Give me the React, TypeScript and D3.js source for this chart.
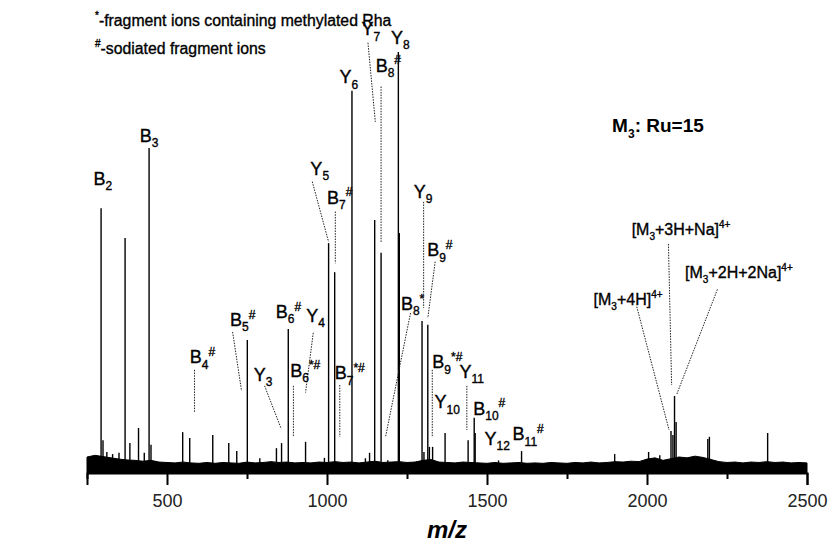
import React, { useEffect, useRef } from "react";
import * as d3 from "d3";

// peak list: m/z and relative intensity (Y8 = 100)
const peakMz = [
  294, 300, 312, 330, 350, 369, 384, 411, 429, 444, 450, 549, 571, 643, 693,
  718, 751, 790, 842, 858, 879, 933, 992, 1005, 1024, 1078, 1120, 1133, 1149,
  1169, 1190, 1223, 1226, 1297, 1303, 1315, 1320, 1330, 1369, 1441, 1460, 1463,
  1536, 1608, 1899, 2005, 2040, 2075, 2081, 2086, 2091, 2190, 2195, 2377,
];
const peakInt = [
  62.9, 7.8, 5, 4.5, 4.8, 55.8, 7.1, 10.7, 4.8, 77.2, 6.7, 9.7, 8.3, 9.0, 7.1,
  5.2, 31.6, 3.5, 5.9, 7.1, 34.2, 7.4, 3.6, 54.6, 47.7, 90.8, 3.5, 4.8, 60.1,
  52.3, 3.0, 100, 57.0, 36.1, 5, 35.2, 6.2, 6.2, 9.5, 7.8, 13.1, 9.5,
  3, 5.2, 4.5, 5, 4.2, 10.0, 9.0, 18.3, 12.1, 8.1, 8.6, 9.5,
];

// chemical noise envelope along the baseline
const noiseMz = [
  250, 275, 300, 325, 350, 375, 400, 425, 450, 475, 500, 525, 550, 575, 600,
  625, 650, 675, 700, 725, 750, 775, 800, 825, 850, 875, 900, 925, 950, 975,
  1000, 1025, 1050, 1075, 1100, 1125, 1150, 1175, 1200, 1225, 1250, 1275, 1300,
  1325, 1350, 1375, 1400, 1425, 1450, 1475, 1500, 1525, 1550, 1575, 1600, 1625,
  1650, 1675, 1700, 1725, 1750, 1775, 1800, 1825, 1850, 1875, 1900, 1925, 1950,
  1975, 2000, 2025, 2050, 2075, 2100, 2125, 2150, 2175, 2200, 2225, 2250, 2275,
  2300, 2325, 2350, 2375, 2400, 2425, 2450, 2475, 2500,
];
const noiseInt = [
  3.8, 4.2, 3.9, 3.6, 3.3, 3.1, 3.0, 2.8, 3.0, 2.6, 2.5, 2.4, 2.6, 2.4, 2.3,
  2.5, 2.3, 2.5, 2.4, 2.3, 2.6, 2.4, 2.5, 2.7, 2.5, 2.6, 2.4, 2.5, 2.4, 2.6,
  2.5, 2.7, 2.5, 2.6, 2.4, 2.6, 2.8, 2.5, 2.6, 2.7, 2.5, 2.6, 3.0,
  3.2, 2.6, 2.5, 2.4, 2.6, 2.5, 2.4, 2.3, 2.5, 2.3, 2.4, 2.5, 2.3,
  2.4, 2.3, 2.5, 2.4, 2.3, 2.5, 2.4, 2.6, 2.4, 2.5, 2.7, 2.6, 2.8,
  2.7, 3.3, 3.6, 3.0, 3.4, 3.8, 3.6, 4.0, 3.7, 3.2, 2.7, 2.5, 2.6,
  2.4, 2.6, 2.5, 2.7, 2.5, 2.6, 2.4, 2.5, 2.4,
];

const xTicks = [250, 500, 750, 1000, 1250, 1500, 1750, 2000, 2250, 2500];
const xTickLabels = ["", "500", "", "1000", "", "1500", "", "2000", "", "2500"];

// ion labels: text (with _{sub} ^{sup}), anchor in data units (left, baseline)
const labels = [
  { t: "B_{2}", mz: 270, i: 68.4 },
  { t: "B_{3}", mz: 415, i: 78.6 },
  { t: "B_{4}^{#}", mz: 571, i: 26.1 },
  { t: "B_{5}^{#}", mz: 697, i: 34.9 },
  { t: "Y_{3}", mz: 771, i: 21.9 },
  { t: "B_{6}^{#}", mz: 840, i: 36.8 },
  { t: "Y_{4}", mz: 935, i: 35.9 },
  { t: "B_{6}^{*#}", mz: 885, i: 22.9 },
  { t: "Y_{5}", mz: 948, i: 70.8 },
  { t: "B_{7}^{#}", mz: 1000, i: 63.9 },
  { t: "B_{7}^{*#}", mz: 1024, i: 22.3 },
  { t: "Y_{6}", mz: 1039, i: 92.6 },
  { t: "Y_{7}", mz: 1108, i: 104 },
  { t: "B_{8}^{#}", mz: 1152, i: 95.3 },
  { t: "Y_{8}", mz: 1200, i: 102 },
  { t: "Y_{9}", mz: 1271, i: 65.3 },
  { t: "B_{9}^{#}", mz: 1313, i: 51.5 },
  { t: "B_{8}^{*}", mz: 1231, i: 38.7 },
  { t: "B_{9}^{*#}", mz: 1329, i: 24.9 },
  { t: "Y_{10}", mz: 1336, i: 15.4 },
  { t: "Y_{11}", mz: 1414, i: 22.6 },
  { t: "B_{10}^{#}", mz: 1457, i: 13.8 },
  { t: "Y_{12}", mz: 1492, i: 6.7 },
  { t: "B_{11}^{#}", mz: 1580, i: 7.8 },
  { t: "[M_{3}+4H]^{4+}", mz: 1833, i: 39.9, small: true },
  { t: "[M_{3}+3H+Na]^{4+}", mz: 1952, i: 56.5, small: true },
  { t: "[M_{3}+2H+2Na]^{4+}", mz: 2119, i: 46.3, small: true },
];

// dotted leader lines: from label to peak, data units
const leaders = [
  [586, 24.5, 586, 14.3],
  [705, 33.5, 733, 19.5],
  [805, 20.7, 857, 10.5],
  [957, 33.3, 933, 19.1],
  [895, 20.7, 895, 8.6],
  [954, 69.2, 1005, 54.9],
  [1026, 62.1, 1026, 49.8],
  [1040, 20.9, 1040, 8.6],
  [1128, 102.2, 1151, 83.4],
  [1169, 91.8, 1169, 54.6],
  [1302, 64.4, 1302, 39.2],
  [1338, 50.2, 1315, 36.8],
  [1261, 38.0, 1183, 8.6],
  [1329, 24.5, 1329, 8.6],
  [1437, 20.7, 1437, 10.2],
  [1968, 39.5, 2069, 10.2],
  [2067, 54.4, 2077, 20.9],
  [2220, 43.6, 2092, 18.5],
];

const FONT = "'Liberation Sans', Arial, sans-serif";

function addRich(text: any, s: string, size: number, small: number) {
  const parts = s.split(/(_\{[^}]*\}|\^\{[^}]*\})/).filter((p) => p !== "");
  let cur = 0;
  parts.forEach((p) => {
    let target = 0;
    let fs = size;
    let str = p;
    if (p.startsWith("_{")) {
      target = size * 0.3;
      fs = small;
      str = p.slice(2, -1);
    } else if (p.startsWith("^{")) {
      target = -size * 0.42;
      fs = small;
      str = p.slice(2, -1);
    }
    text
      .append("tspan")
      .attr("dy", target - cur)
      .style("font-size", fs + "px")
      .text(str);
    cur = target;
  });
}

export default function App() {
  const ref = useRef<SVGSVGElement>(null);

  useEffect(() => {
    const svg = d3.select(ref.current);
    svg.selectAll("*").remove();

    const x = d3.scaleLinear().domain([250, 2500]).range([87, 807]);
    const y = d3.scaleLinear().domain([0, 100]).range([473, 52]);

    // baseline noise
    const noise = noiseMz.map((m, k) => [m, noiseInt[k]]);
    svg
      .append("path")
      .datum(noise)
      .attr(
        "d",
        d3
          .area<number[]>()
          .x((d) => x(d[0]))
          .y0(y(0))
          .y1((d) => y(d[1]))
      )
      .attr("fill", "#000")
      .attr("stroke", "#000")
      .attr("stroke-width", 1);

    // peaks
    svg
      .selectAll(".peak")
      .data(peakMz)
      .join("line")
      .attr("class", "peak")
      .attr("x1", (d) => x(d))
      .attr("x2", (d) => x(d))
      .attr("y1", y(0))
      .attr("y2", (d, k) => y(peakInt[k]))
      .attr("stroke", "#000")
      .attr("stroke-width", 1.4);

    // leaders
    svg
      .selectAll(".leader")
      .data(leaders)
      .join("line")
      .attr("class", "leader")
      .attr("x1", (d) => x(d[0]))
      .attr("y1", (d) => y(d[1]))
      .attr("x2", (d) => x(d[2]))
      .attr("y2", (d) => y(d[3]))
      .attr("stroke", "#222")
      .attr("stroke-width", 1)
      .attr("stroke-dasharray", "1.5,1.2");

    // x-axis
    const axis = d3
      .axisBottom(x)
      .tickValues(xTicks)
      .tickFormat((d, k) => xTickLabels[k])
      .tickSizeOuter(0)
      .tickSize(12)
      .tickPadding(9);
    const gx = svg
      .append("g")
      .attr("transform", `translate(0,${y(0)})`)
      .call(axis);
    gx.select(".domain").attr("stroke-width", 2);
    gx.selectAll(".tick line")
      .attr("stroke-width", 2)
      .attr("y2", (d: any) => (d % 500 === 0 ? 12 : 6));
    gx.selectAll(".tick text")
      .style("font-family", FONT)
      .style("font-size", "18px")
      .attr("fill", "#222");

    // axis title
    svg
      .append("text")
      .attr("x", 447)
      .attr("y", 538)
      .attr("text-anchor", "middle")
      .style("font-family", FONT)
      .style("font-size", "24px")
      .style("font-weight", "bold")
      .style("font-style", "italic")
      .text("m/z");

    // ion labels
    labels.forEach((l) => {
      const t = svg
        .append("text")
        .attr("x", x(l.mz))
        .attr("y", y(l.i))
        .attr("stroke", "#000")
        .attr("stroke-width", 0.35)
        .style("font-family", FONT);
      if (l.small) addRich(t, l.t, 16, 10);
      else addRich(t, l.t, 18, 12);
    });

    // sample title
    const tt = svg
      .append("text")
      .attr("x", x(1891))
      .attr("y", y(81))
      .style("font-family", FONT)
      .style("font-weight", "bold");
    addRich(tt, "M_{3}: Ru=15", 19, 12);

    // legend
    const lg1 = svg
      .append("text")
      .attr("x", 95)
      .attr("y", 26)
      .attr("stroke", "#000")
      .attr("stroke-width", 0.35)
      .style("font-family", FONT);
    addRich(lg1, "^{*}-fragment ions containing methylated Rha", 15.8, 10);
    const lg2 = svg
      .append("text")
      .attr("x", 95)
      .attr("y", 54)
      .attr("stroke", "#000")
      .attr("stroke-width", 0.35)
      .style("font-family", FONT);
    addRich(lg2, "^{#}-sodiated fragment ions", 15.8, 10);
  }, []);

  return (
    <svg
      ref={ref}
      width={828}
      height={551}
      style={{ position: "absolute", left: 0, top: 0, background: "#fff" }}
    />
  );
}
